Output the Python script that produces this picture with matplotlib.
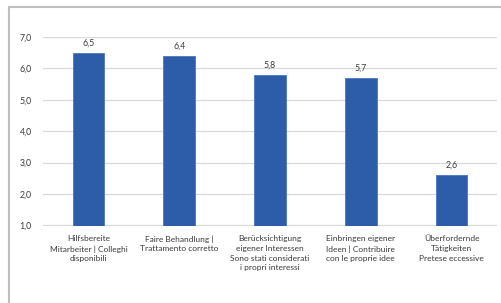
import matplotlib
matplotlib.use("Agg")
import matplotlib.pyplot as plt
from matplotlib.lines import Line2D

categories = [
    "Hilfsbereite\nMitarbeiter | Colleghi\ndisponibili",
    "Faire Behandlung |\nTrattamento corretto",
    "Berücksichtigung\neigener Interessen\nSono stati considerati\ni propri interessi",
    "Einbringen eigener\nIdeen | Contribuire\ncon le proprie idee",
    "Überfordernde\nTätigkeiten\nPretese eccessive",
]
values = [6.5, 6.4, 5.8, 5.7, 2.6]
value_labels = ["6,5", "6,4", "5,8", "5,7", "2,6"]
yticks = [1, 2, 3, 4, 5, 6, 7]
ytick_labels = ["1,0", "2,0", "3,0", "4,0", "5,0", "6,0", "7,0"]

plt.rcParams['font.family'] = ['Lato', 'DejaVu Sans']
text_color = "#3A3A3A"

fig = plt.figure(figsize=(5.01, 3.03), dpi=100)
W, H = 501, 303
ax = fig.add_axes([43 / W, 1 - 225.5 / H, (497 - 43) / W, (225.5 - 37) / H])

x = list(range(len(categories)))
ax.bar(x, [v - 1 for v in values], bottom=1, width=0.35, color="#2D5CA8",
       edgecolor="#4A78C0", linewidth=0.6, zorder=3)
for xi, v, lab in zip(x, values, value_labels):
    ax.text(xi, v + 0.17, lab, ha="center", va="bottom", fontsize=6.3, color=text_color)

ax.set_xlim(-0.5, len(categories) - 0.5)
ax.set_ylim(1, 7)
ax.set_yticks(yticks)
ax.set_yticklabels(ytick_labels, fontsize=6.3, color=text_color)
ax.set_xticks(x)
ax.set_xticklabels(categories, fontsize=6.0, color=text_color, linespacing=1.45)
ax.tick_params(axis="both", length=0)
ax.tick_params(axis="y", pad=8)
ax.tick_params(axis="x", pad=7)
ax.grid(axis="y", color="#D9D9D9", linewidth=0.9, zorder=0)
for s in ax.spines.values():
    s.set_visible(False)

# outer chart frame (top and left edges visible)
fig.add_artist(Line2D([9 / W, 1], [1 - 6.5 / H, 1 - 6.5 / H], color="#BFBFBF", linewidth=1.5,
                      transform=fig.transFigure))
fig.add_artist(Line2D([9 / W, 9 / W], [0, 1 - 6.5 / H], color="#BFBFBF", linewidth=1.5,
                      transform=fig.transFigure))

fig.savefig("out.png", dpi=100)
